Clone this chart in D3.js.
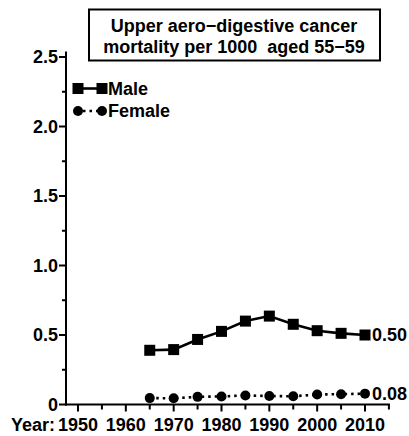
<!DOCTYPE html>
<html><head><meta charset="utf-8">
<script src="https://cdn.jsdelivr.net/npm/d3@7"></script>
<style>body{margin:0;background:#fff}svg{display:block}text{white-space:pre}</style>
</head><body><svg id="c" width="409" height="436"></svg>
<script>
const years = [1965,1970,1975,1980,1985,1990,1995,2000,2005,2010];
const male = [0.39,0.395,0.468,0.526,0.60,0.636,0.577,0.531,0.512,0.50];
const female = [0.046,0.045,0.055,0.058,0.065,0.061,0.059,0.072,0.074,0.078];
const seriesNames = ["Male","Female"];
const endLabels = ["0.50","0.08"];
const yTicks = [0,0.5,1.0,1.5,2.0,2.5];
const yTickLabels = ["0","0.5","1.0","1.5","2.0","2.5"];
const xTicks = [1950,1960,1970,1980,1990,2000,2010];
const titleLines = ["Upper aero\u2212digestive cancer","mortality per 1000  aged 55\u221259"];

const svg = d3.select("#c");
const font = "Liberation Sans, Arial, Helvetica, sans-serif";
const fs = 18;
const x = d3.scaleLinear().domain([1950,2010]).range([78,365]);
const y = d3.scaleLinear().domain([0,2.5]).range([404.5,57]);

// axes
const gy = svg.append("g").attr("transform","translate(66,0)");
gy.append("line").attr("x1",0).attr("x2",0).attr("y1",y(2.54)).attr("y2",y(0)+1).attr("stroke","#000").attr("stroke-width",2);
const yMinor = d3.range(0.25,2.5,0.5);
gy.selectAll(".ym").data(yMinor).join("line").attr("x1",-4).attr("x2",0).attr("y1",d=>y(d)).attr("y2",d=>y(d)).attr("stroke","#000").attr("stroke-width",2);
gy.selectAll(".yM").data(yTicks).join("line").attr("x1",-7).attr("x2",0).attr("y1",d=>y(d)).attr("y2",d=>y(d)).attr("stroke","#000").attr("stroke-width",2);
gy.selectAll("text").data(yTicks).join("text").attr("x",-8).attr("y",d=>y(d)).attr("dy","0.36em")
  .attr("text-anchor","end").attr("font-family",font).attr("font-weight","bold").attr("font-size",fs)
  .text((d,i)=>yTickLabels[i]);

const gx = svg.append("g").attr("transform","translate(0,404.5)");
gx.append("line").attr("x1",65).attr("x2",x(2015)+1).attr("y1",0).attr("y2",0).attr("stroke","#000").attr("stroke-width",2);
const xAll = d3.range(1950,2016,5);
gx.selectAll(".xt").data(xAll).join("line").attr("x1",d=>x(d)).attr("x2",d=>x(d)).attr("y1",0).attr("y2",d=>d%10===0?7:5).attr("stroke","#000").attr("stroke-width",2);
gx.selectAll("text.xl").data(xTicks).join("text").attr("class","xl").attr("x",d=>x(d)).attr("y",26.5)
  .attr("text-anchor","middle").attr("font-family",font).attr("font-weight","bold").attr("font-size",fs).text(d=>d);
gx.append("text").attr("x",x(1950)-23).attr("y",26.5).attr("text-anchor","end").attr("font-family",font).attr("font-weight","bold").attr("font-size",fs).text("Year:");

// series
const line = d3.line().x((d,i)=>x(years[i])).y(d=>y(d));
svg.append("path").datum(male).attr("d",line).attr("fill","none").attr("stroke","#000").attr("stroke-width",2.6);
svg.selectAll(".ms").data(male).join("rect").attr("x",(d,i)=>x(years[i])-5.5).attr("y",d=>y(d)-5.5).attr("width",11).attr("height",11).attr("fill","#000");
svg.append("path").datum(female).attr("d",line).attr("fill","none").attr("stroke","#000").attr("stroke-width",2.6).attr("stroke-dasharray","2.5,4");
svg.selectAll(".fc").data(female).join("circle").attr("cx",(d,i)=>x(years[i])).attr("cy",d=>y(d)).attr("r",5).attr("fill","#000");

// end labels
svg.append("text").attr("x",x(2010)+7).attr("y",y(male[male.length-1])).attr("dy","0.36em").attr("font-family",font).attr("font-weight","bold").attr("font-size",fs).text(endLabels[0]);
svg.append("text").attr("x",x(2010)+7).attr("y",y(female[female.length-1])).attr("dy","0.36em").attr("font-family",font).attr("font-weight","bold").attr("font-size",fs).text(endLabels[1]);

// legend
const lg = svg.append("g");
const ly = [88.5,111];
lg.append("line").attr("x1",78).attr("x2",102).attr("y1",ly[0]).attr("y2",ly[0]).attr("stroke","#000").attr("stroke-width",2.6);
[78,102].forEach(cx=>lg.append("rect").attr("x",cx-5.5).attr("y",ly[0]-5.5).attr("width",11).attr("height",11).attr("fill","#000"));
lg.append("line").attr("x1",78).attr("x2",102).attr("y1",ly[1]).attr("y2",ly[1]).attr("stroke","#000").attr("stroke-width",2.6).attr("stroke-dasharray","2.5,4").attr("stroke-dashoffset",-5);
[78,102].forEach(cx=>lg.append("circle").attr("cx",cx).attr("cy",ly[1]).attr("r",5).attr("fill","#000"));
seriesNames.forEach((n,i)=>lg.append("text").attr("x",108).attr("y",ly[i]).attr("dy","0.36em").attr("font-family",font).attr("font-weight","bold").attr("font-size",fs).text(n));

// title box
svg.append("rect").attr("x",89).attr("y",9.5).attr("width",291).attr("height",51).attr("fill","#fff").attr("stroke","#000").attr("stroke-width",2);
titleLines.forEach((t,i)=>svg.append("text").attr("x",234).attr("y",31.5+i*21).attr("text-anchor","middle").attr("font-family",font).attr("font-weight","bold").attr("font-size",fs).attr("xml:space","preserve").text(t));
</script></body></html>
